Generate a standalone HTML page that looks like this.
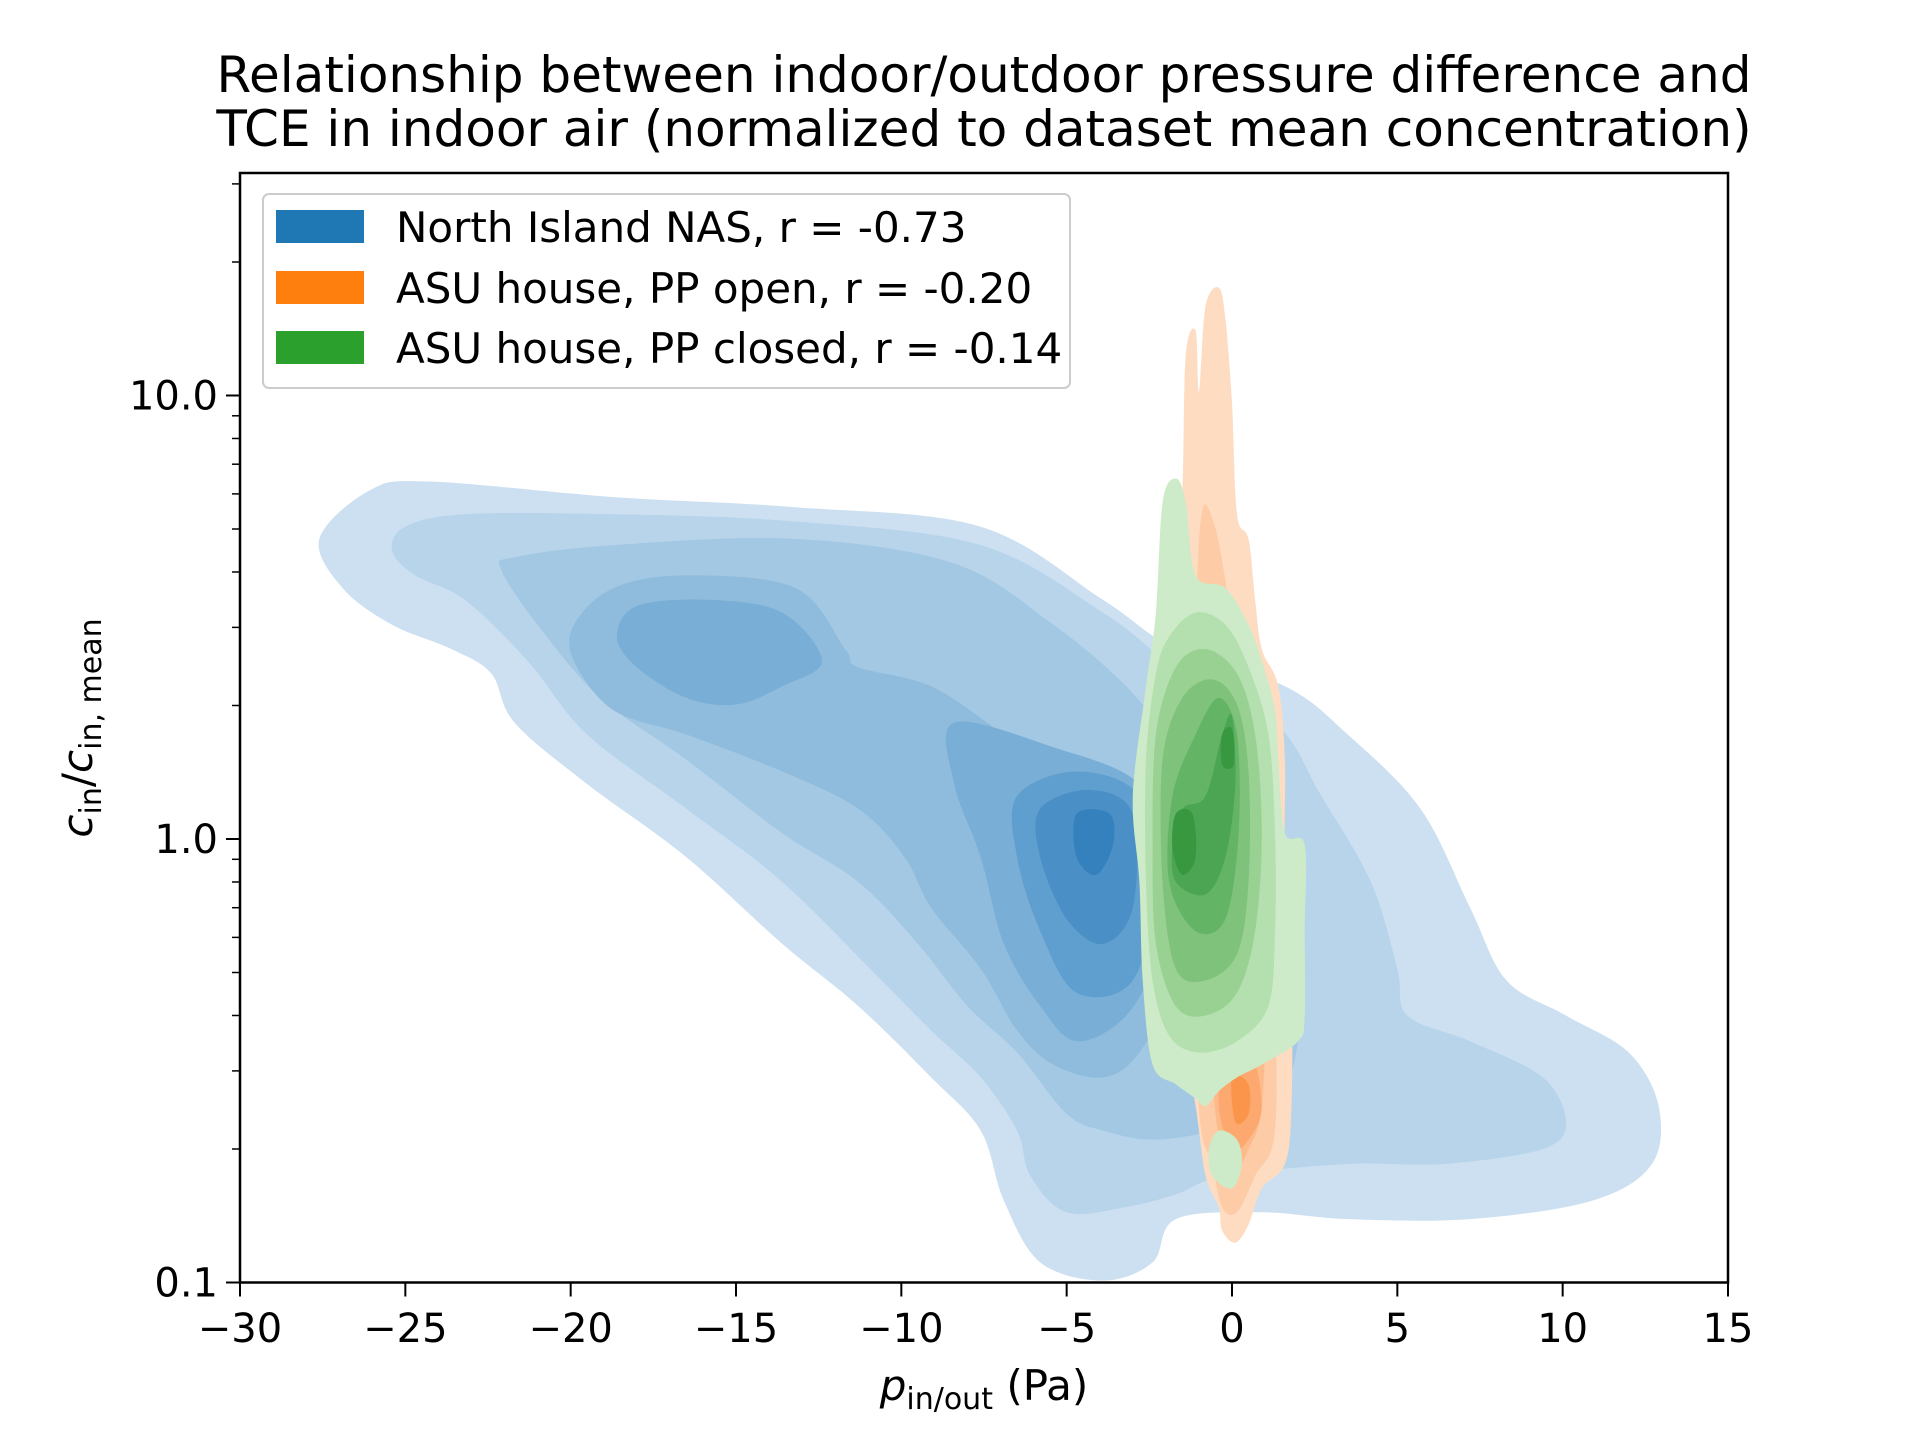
<!DOCTYPE html>
<html><head><meta charset="utf-8"><style>
html,body{margin:0;padding:0;background:#fff}
svg{display:block}
text{font-family:"DejaVu Sans","Liberation Sans",sans-serif;fill:#000}
</style></head><body>
<svg id="chart" width="1920" height="1440" viewBox="0 0 1920 1440">
<g id="plot"></g>
<g id="axes"></g>
</svg>
<script>
// ---- data (p in Pa, c normalized) as flat [p,c,...] arrays per contour level ----
const blueL1=[-27.6,4.75,-26.1,6.1,-24.3,6.4,-18.7,5.9,-13.2,5.6,-7.6,5.06,-3.9,3.46,-1.7,2.68,1.6,2.21,3.5,1.72,5.7,1.17,7.2,0.70,8.3,0.48,10.1,0.40,12.0,0.33,12.9,0.25,12.7,0.185,10.9,0.153,7.2,0.139,3.5,0.139,0.9,0.144,-1.7,0.139,-2.4,0.111,-3.9,0.101,-5.8,0.111,-6.9,0.153,-7.6,0.22,-9.1,0.29,-11.3,0.42,-13.6,0.58,-16.5,0.91,-19.5,1.33,-21.7,1.83,-22.4,2.36,-23.6,2.68,-25.4,3.04,-26.9,3.68];
const blueL2=[-25.4,4.46,-25.0,5.06,-23.2,5.4,-18.7,5.4,-13.2,5.2,-7.6,4.6,-3.9,3.24,-1.7,2.44,1.3,1.83,2.7,1.25,4.2,0.80,5.0,0.51,5.3,0.40,7.2,0.35,9.4,0.29,10.1,0.23,9.4,0.20,6.4,0.185,3.5,0.185,-0.2,0.174,-1.7,0.158,-3.2,0.148,-5.0,0.144,-6.1,0.174,-6.5,0.22,-7.6,0.29,-9.1,0.37,-10.6,0.48,-13.6,0.80,-16.5,1.17,-19.5,1.72,-21.3,2.52,-23.2,3.46,-24.7,3.93];
const blueL3=[-22.1,4.05,-21.7,4.32,-18.7,4.6,-13.2,4.75,-8.4,4.18,-5.4,3.04,-3.2,2.21,-1.7,1.61,-0.2,1.17,1.3,0.80,2.0,0.51,2.0,0.35,1.3,0.25,-0.6,0.22,-2.4,0.21,-3.9,0.22,-5.0,0.24,-6.5,0.33,-8.0,0.42,-9.5,0.58,-11.3,0.80,-13.6,1.03,-16.5,1.51,-19.1,2.08,-21.0,3.04];
const blueL4=[-19.9,3.04,-18.7,3.68,-16.5,3.93,-13.2,3.68,-11.7,2.68,-11.3,2.44,-9.1,2.21,-6.9,1.72,-4.7,1.33,-2.4,1.03,-1.3,0.70,-1.7,0.48,-2.8,0.33,-3.9,0.29,-5.4,0.31,-6.5,0.37,-7.6,0.51,-9.1,0.70,-9.9,0.91,-11.3,1.17,-13.6,1.42,-16.5,1.72,-18.7,1.95,-19.9,2.52];
const blueL5a=[-18.6,2.86,-18.0,3.35,-15.8,3.46,-13.6,3.24,-12.4,2.52,-13.6,2.21,-15.0,2.01,-16.5,2.08,-18.0,2.44];
const blueL5b=[-8.4,1.83,-5.4,1.61,-2.8,1.33,-2.1,0.91,-2.3,0.55,-3.2,0.40,-4.7,0.35,-5.8,0.42,-6.9,0.58,-7.6,0.91,-8.4,1.33];
const blueL6=[-6.5,1.25,-4.7,1.42,-2.8,1.25,-2.3,0.80,-3.0,0.48,-4.7,0.45,-5.8,0.62,-6.5,0.91];
const blueL7=[-5.8,1.17,-4.3,1.29,-3.0,1.14,-3.0,0.70,-3.9,0.58,-5.0,0.66,-5.8,0.91];
const blueL8=[-4.7,1.14,-3.7,1.14,-3.6,0.97,-4.1,0.83,-4.7,0.91];
const orangeL1=[-1.4,12.3,-1.1,14.0,-1.0,10.2,-0.8,15.9,-0.4,17.5,-0.2,14.9,0,9.6,0.15,5.4,0.5,4.75,0.7,3.46,0.9,2.68,1.4,2.21,1.6,1.51,1.6,0.91,1.8,0.48,1.8,0.25,1.6,0.185,0.9,0.163,0.5,0.135,0.1,0.123,-0.3,0.131,-0.4,0.148,-0.8,0.174,-1.1,0.25,-1.7,0.48,-2.1,0.91,-1.9,1.72,-1.7,3.24,-1.5,6.1];
const orangeL2=[-0.9,5.5,-0.5,5.0,-0.1,3.5,0.3,2.6,0.7,2.0,1.2,1.5,1.3,0.48,1.3,0.22,0.7,0.174,0.15,0.144,-0.3,0.148,-0.6,0.185,-1.0,0.25,-1.2,0.91,-1.1,3.0];
const orangeL3=[-0.2,3.0,0.3,2.4,0.8,1.72,1.0,0.48,0.9,0.25,0.5,0.2,0,0.174,-0.4,0.21,-0.8,0.48,-0.8,1.72];
const orangeL4=[-0.2,0.33,0.5,0.35,0.9,0.25,0.5,0.21,0,0.2,-0.4,0.25];
const orangeL5=[0,0.29,0.5,0.28,0.5,0.24,0.1,0.23];
const greenL1=[-2.1,5.75,-1.7,6.5,-1.4,5.75,-1.1,3.93,-0.2,3.68,0.5,3.04,0.9,2.52,1.3,1.95,1.4,1.51,1.6,1.03,2.2,0.97,2.2,0.62,2.2,0.40,2.0,0.35,0.9,0.31,0.15,0.29,-0.4,0.27,-0.8,0.25,-1.1,0.26,-1.7,0.28,-2.4,0.31,-2.7,0.48,-2.8,0.80,-3.0,1.25,-2.6,2.21,-2.3,3.24];
const greenBlob=[-0.4,0.22,0.15,0.21,0.3,0.185,0,0.163,-0.6,0.174,-0.7,0.2];
const greenL2=[-1.9,2.86,-1.1,3.24,-0.2,3.04,0.5,2.44,1.1,1.72,1.3,1.03,1.3,0.62,1.1,0.42,0.15,0.35,-1.0,0.33,-1.9,0.36,-2.4,0.48,-2.6,0.80,-2.6,1.51,-2.3,2.36];
const greenL3=[-1.7,2.44,-0.8,2.68,0.15,2.36,0.7,1.72,0.9,1.03,0.7,0.62,0.15,0.45,-0.8,0.40,-1.7,0.42,-2.3,0.58,-2.4,0.97,-2.3,1.72];
const greenL4=[-1.5,2.08,-0.6,2.29,0.15,2.01,0.5,1.42,0.5,0.80,0.15,0.55,-0.8,0.48,-1.7,0.51,-2.1,0.80,-2.1,1.51];
const greenL5=[-1.1,1.72,-0.4,2.08,0.15,1.72,0.2,1.03,-0.2,0.66,-1.1,0.62,-1.9,0.80,-1.8,1.25];
const greenL6=[-1.5,1.17,-0.8,1.25,-0.3,1.72,0,1.89,0.1,1.33,-0.2,0.91,-0.8,0.75,-1.7,0.80,-1.8,0.97];
const greenL7=[-1.7,1.14,-1.2,1.14,-1.1,0.91,-1.5,0.83,-1.8,0.95];
const greenL7b=[-0.3,1.72,0,1.77,0.05,1.47,-0.3,1.47];
const xTicks=[-30,-25,-20,-15,-10,-5,0,5,10,15];
const xTickLabels=["\u221230","\u221225","\u221220","\u221215","\u221210","\u22125","0","5","10","15"];
const yTicks=[0.1,1,10];
const yTickLabels=["0.1","1.0","10.0"];
const yMinor=[0.2,0.3,0.4,0.5,0.6,0.7,0.8,0.9,2,3,4,5,6,7,8,9,20,30];

// ---- scales ----
const L=240,R=1728,T=173,B=1282.5;
const X=p=>L+(p+30)/45*(R-L);
const Y=c=>395.5-(Math.log10(c)-1)*443.5;
const NS="http://www.w3.org/2000/svg";
const plot=document.getElementById('plot'),axes=document.getElementById('axes');
function mk(tag,attrs,parent){const e=document.createElementNS(NS,tag);for(const k in attrs)e.setAttribute(k,attrs[k]);parent.appendChild(e);return e;}
function smoothPath(arr){
  const pts=[];for(let i=0;i<arr.length;i+=2)pts.push([X(arr[i]),Y(arr[i+1])]);
  const n=pts.length;let d=`M${pts[0][0].toFixed(1)},${pts[0][1].toFixed(1)}`;
  for(let i=0;i<n;i++){const p0=pts[(i-1+n)%n],p1=pts[i],p2=pts[(i+1)%n],p3=pts[(i+2)%n];
    const c1=[p1[0]+(p2[0]-p0[0])/6,p1[1]+(p2[1]-p0[1])/6],c2=[p2[0]-(p3[0]-p1[0])/6,p2[1]-(p3[1]-p1[1])/6];
    d+=`C${c1[0].toFixed(1)},${c1[1].toFixed(1)} ${c2[0].toFixed(1)},${c2[1].toFixed(1)} ${p2[0].toFixed(1)},${p2[1].toFixed(1)}`;}
  return d+'Z';
}
const cp=mk('clipPath',{id:'clip'},plot);mk('rect',{x:L,y:T,width:R-L,height:B-T},cp);
const g=mk('g',{'clip-path':'url(#clip)'},plot);
const layers=[
 [blueL1,'#cce0f1','blue-level-1'],[blueL2,'#b7d4ea','blue-level-2'],[blueL3,'#a3c8e3','blue-level-3'],[blueL4,'#8fbcdc','blue-level-4'],
 [blueL5a,'#79aed6','blue-level-5a'],[blueL5b,'#79aed6','blue-level-5b'],[blueL6,'#5f9fcf','blue-level-6'],[blueL7,'#4a90c6','blue-level-7'],[blueL8,'#3581bd','blue-level-8'],
 [orangeL1,'#fddcc2','orange-level-1'],[orangeL2,'#fdcba5','orange-level-2'],[orangeL3,'#fdbb8c','orange-level-3'],[orangeL4,'#fda86e','orange-level-4'],[orangeL5,'#fb954c','orange-level-5'],
 [greenL1,'#cdebc8','green-level-1'],[greenBlob,'#cdebc8','green-level-1-blob'],[greenL2,'#b4dfae','green-level-2'],[greenL3,'#99d193','green-level-3'],[greenL4,'#7fc27b','green-level-4'],
 [greenL5,'#64b466','green-level-5'],[greenL6,'#4ba553','green-level-6'],[greenL7,'#37983f','green-level-7'],[greenL7b,'#37983f','green-level-7b']
];
layers.forEach(([arr,col,name])=>{
  const e=mk('path',{d:smoothPath(arr),fill:col},g);
  
  
});
const frame=mk('rect',{x:L,y:T,width:R-L,height:B-T,fill:'none',stroke:'#000','stroke-width':2.5},axes);


xTicks.forEach((v,i)=>{
  const x=X(v);
  mk('line',{x1:x,x2:x,y1:B,y2:B+14,stroke:'#000','stroke-width':2},axes);
  const t=mk('text',{x:x,y:1342,'font-size':40,'text-anchor':'middle'},axes);t.textContent=xTickLabels[i];
  
  
});
yTicks.forEach((v,i)=>{
  const y=Y(v);
  mk('line',{x1:L-14,x2:L,y1:y,y2:y,stroke:'#000','stroke-width':2},axes);
  const t=mk('text',{x:L-22,y:y+14,'font-size':40,'text-anchor':'end'},axes);t.textContent=yTickLabels[i];
  
  
});
yMinor.forEach(v=>{const y=Y(v);mk('line',{x1:L-8,x2:L,y1:y,y2:y,stroke:'#000','stroke-width':1.5},axes);});
</script>
<svg style="position:absolute;left:0;top:0" width="1920" height="1440">
<text x="984" y="92" font-size="50" text-anchor="middle">Relationship between indoor/outdoor pressure difference and</text>
<text x="984" y="146" font-size="50" text-anchor="middle">TCE in indoor air (normalized to dataset mean concentration)</text>
<text x="984" y="1400" font-size="42" text-anchor="middle"><tspan font-style="italic">p</tspan><tspan font-size="30" dy="9">in/out</tspan><tspan dy="-9"> (Pa)</tspan></text>
<text transform="translate(92,728) rotate(-90)" font-size="42" text-anchor="middle"><tspan font-style="italic">c</tspan><tspan font-size="30" dy="9">in</tspan><tspan dy="-9">/</tspan><tspan font-style="italic">c</tspan><tspan font-size="30" dy="9">in, mean</tspan></text>
<g>
<rect x="263" y="194" width="807" height="194" rx="6" fill="#fff" fill-opacity="0.85" stroke="#ccc" stroke-width="2"/>
<rect x="276" y="210" width="88" height="33" fill="#1f77b4"/>
<text x="396" y="242" font-size="42">North Island NAS, r = -0.73</text>
<rect x="276" y="271" width="88" height="33" fill="#ff7f0e"/>
<text x="396" y="303" font-size="42">ASU house, PP open, r = -0.20</text>
<rect x="276" y="331" width="88" height="33" fill="#2ca02c"/>
<text x="396" y="363" font-size="42">ASU house, PP closed, r = -0.14</text>
</g>
</svg>
</body></html>
